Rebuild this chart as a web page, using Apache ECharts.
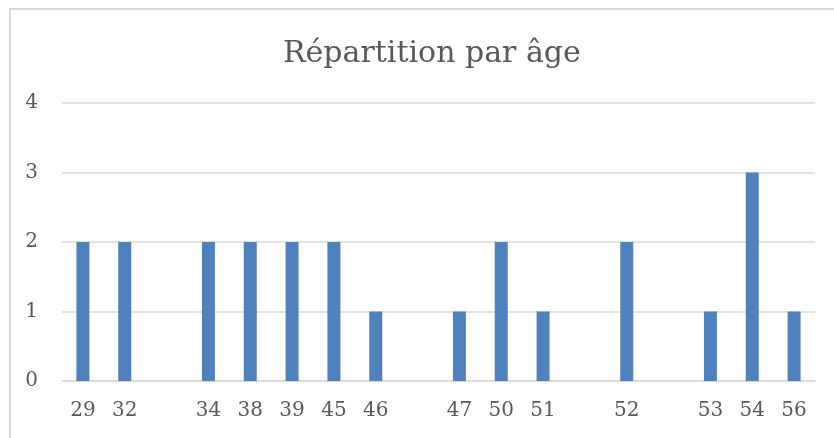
<!DOCTYPE html>
<html><head><meta charset="utf-8">
<script src="https://cdn.jsdelivr.net/npm/echarts@6/dist/echarts.min.js"></script>
<style>html,body{margin:0;padding:0;background:#fff}#c{width:834px;height:438px}</style>
</head><body><div id="c"></div>
<script>
const categories = ["29","32","","34","38","39","45","46","","47","50","51","","52","","53","54","56"];
const counts = [2,2,null,2,2,2,2,1,null,1,2,1,null,2,null,1,3,1];
const yTicks = [0,1,2,3,4];
const FONT = "'DejaVu Serif', 'Liberation Serif', serif";
const chart = echarts.init(document.getElementById('c'), null, {renderer:'canvas'});
chart.setOption({
  animation:false,
  backgroundColor:'#fff',
  title:{text:'Répartition par âge',left:278,top:34,textStyle:{fontFamily:FONT,fontSize:30,fontWeight:'normal',color:'#595959'}},
  graphic:[{type:'rect',shape:{x:10,y:9,width:840,height:450},style:{fill:'none',stroke:'#d9d9d9',lineWidth:2},silent:true}],
  grid:{left:62,right:19,top:103,bottom:57},
  xAxis:[{type:'category',data:categories,offset:7,axisLine:{show:true,lineStyle:{color:'#d9d9d9',width:1.5}},axisTick:{show:false},
    axisLabel:{fontFamily:FONT,fontSize:20,color:'#595959',margin:13,interval:0}}],
  yAxis:{type:'value',min:yTicks[0],max:yTicks[yTicks.length-1],interval:1,axisLine:{show:false},axisTick:{show:false},
    axisLabel:{fontFamily:FONT,fontSize:20,color:'#595959',margin:24},
    splitLine:{lineStyle:{color:'#d9d9d9',width:1.5}}},
  series:[{type:'bar',data:counts,barWidth:13,itemStyle:{color:'#4f81bd'}}]
});
</script></body></html>
